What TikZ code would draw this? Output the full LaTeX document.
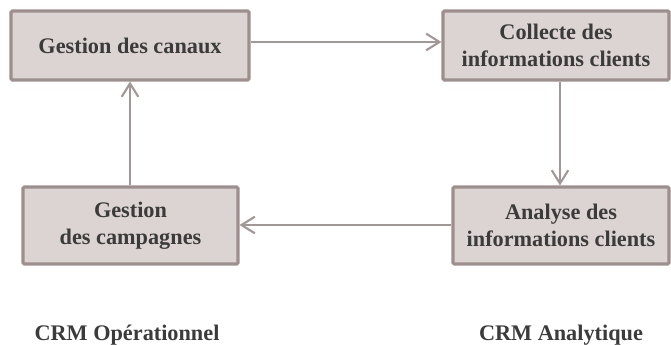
\documentclass[tikz,border=0pt]{standalone}
\usepackage{fontspec}
\setmainfont{Liberation Serif}
\usepackage{tikz}
\usetikzlibrary{positioning,arrows.meta}
\definecolor{boxfill}{HTML}{DCD4D2}
\definecolor{boxline}{HTML}{9E8F8F}
\definecolor{flow}{HTML}{A39696}
\definecolor{ink}{HTML}{3B3B3B}

\begin{document}
\begin{tikzpicture}[x=0.03cm,y=-0.03cm,
    every node/.style={font=\bfseries\fontsize{19}{23}\selectfont,text=ink}]
      \tikzstyle{box}=[draw=boxline,fill=boxfill,line width=2.6pt,
                       rounded corners=1pt,align=center,inner sep=0pt];
      \tikzstyle{flowline}=[draw=flow,line width=1.8pt,
                       -{Straight Barb[length=4mm,width=5mm,line width=1.8pt]}];
      \useasboundingbox (0,0) rectangle (671,345);
      \node[box,minimum width=7.14cm,minimum height=2.07cm] (canaux) at (130,45.5)
           {Gestion des canaux};
      \node[box,minimum width=6.78cm,minimum height=2.07cm] (collecte) at (556,45.5)
           {Collecte des\\informations clients};
      \node[box,minimum width=6.45cm,minimum height=2.31cm] (campagnes) at (130.5,225.5)
           {Gestion\\des campagnes};
      \node[box,minimum width=6.48cm,minimum height=2.31cm] (analyse) at (561,225.5)
           {Analyse des\\informations clients};
      \node[anchor=base] (operationnel) at (127,340) {CRM Opérationnel};
      \node[anchor=base] (analytique) at (561,340) {CRM Analytique};
      % cycle
      \draw[flowline] (canaux.east |- 0,42) -- (collecte.west |- 0,42);
      \draw[flowline] (collecte.south -| 560,0) -- (analyse.north -| 560,0);
      \draw[flowline] (analyse.west |- 0,225) -- (campagnes.east |- 0,225);
      \draw[flowline] (campagnes.north -| 130,0) -- (canaux.south -| 130,0);
\end{tikzpicture}
\end{document}
